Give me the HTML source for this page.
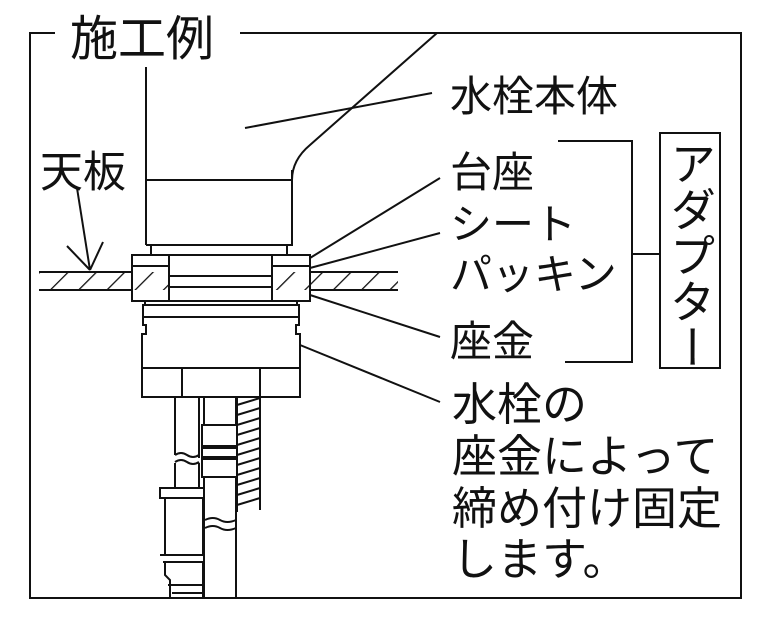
<!DOCTYPE html>
<html><head><meta charset="utf-8"><style>
html,body{margin:0;padding:0;background:#fff;}
svg{display:block;}
text{font-family:"Liberation Sans","Noto Sans CJK JP",sans-serif;fill:#111;}
</style></head><body>
<svg width="768" height="624" viewBox="0 0 768 624" xmlns="http://www.w3.org/2000/svg">
<defs>
<pattern id="h" width="20" height="20" patternUnits="userSpaceOnUse" patternTransform="rotate(45)">
<line x1="0" y1="0" x2="0" y2="20" stroke="#111" stroke-width="2.6"/>
</pattern>
</defs>
<g fill="none" stroke="#111" stroke-width="2">
<polyline points="55,33 30,33 30,598 741,598 741,33 240,33"/>
<line x1="146" y1="67" x2="146" y2="245"/>
<path d="M146,180 H292 Q292,160 310,145 L437,33"/>
<line x1="292" y1="170" x2="292" y2="245"/>
<line x1="146" y1="245" x2="293" y2="245"/>
<rect x="151" y="245" width="136" height="10"/>
<rect x="39" y="272" width="359" height="18" fill="url(#h)" stroke="none"/>
<line x1="39" y1="272" x2="398" y2="272"/>
<line x1="39" y1="290" x2="398" y2="290"/>
<rect x="132" y="255" width="37" height="46" fill="#fff"/>
<line x1="132" y1="266" x2="169" y2="266"/>
<rect x="132" y="272" width="37" height="18" fill="url(#h)" stroke="none"/>
<rect x="272" y="255" width="38" height="46" fill="#fff"/>
<line x1="272" y1="266" x2="310" y2="266"/>
<rect x="272" y="272" width="38" height="18" fill="url(#h)" stroke="none"/>
<line x1="132" y1="272" x2="132" y2="290"/><line x1="310" y1="272" x2="310" y2="290"/>
<rect x="169" y="255" width="103" height="46" fill="#fff"/>
<line x1="169" y1="276" x2="272" y2="276"/>
<line x1="169" y1="287" x2="272" y2="287"/>
<rect x="145" y="301" width="152" height="4"/>
<path d="M143,305 H299 V325 H296 V334 H300 V368 H142 V334 H146 V325 H143 Z"/>
<line x1="143" y1="317" x2="299" y2="317"/>
<rect x="142" y="368" width="158" height="29"/>
<line x1="182" y1="368" x2="182" y2="397"/>
<line x1="260" y1="368" x2="260" y2="397"/>
<path d="M175,397 V455 M199,397 V458 M175,463 V488 M199,463 V488"/>
<path d="M175,455 q6,-4 12,0 t12,0 M175,462 q6,-4 12,0 t12,0"/>
<rect x="160" y="488" width="44" height="10"/>
<rect x="165" y="498" width="38" height="57"/>
<path d="M160,555 H204 M163,562 H203 V598 M165,562 V575 L170,580 V598 M168,585 H203 M172,593 H203"/>
<path d="M204,397 V425 M236,397 V425 M204,477 V598 M236,477 V598"/>
<rect x="202" y="425" width="35" height="52"/>
<line x1="202" y1="447" x2="237" y2="447" stroke-width="4"/>
<line x1="202" y1="458" x2="237" y2="458" stroke-width="4"/>
<path d="M205,520 q8,-4 15,0 t16,0 M205,528 q8,-4 15,0 t16,0"/>
<path d="M237,405 L260,398 M237,415 L260,408 M237,425 L260,418 M237,435 L260,428 M237,445 L260,438 M237,455 L260,448 M237,465 L260,458 M237,475 L260,468 M237,485 L260,478 M237,495 L260,488 M237,505 L260,498"/>
<path d="M237,397 V512 M260,397 V510"/>
<line x1="245" y1="128" x2="432" y2="93"/>
<line x1="310" y1="258" x2="440" y2="178"/>
<line x1="310" y1="268" x2="440" y2="233"/>
<line x1="310" y1="295" x2="440" y2="337"/>
<line x1="300" y1="345" x2="440" y2="402"/>
<line x1="77" y1="188" x2="90" y2="270"/>
<line x1="67" y1="246" x2="90" y2="270"/><line x1="103" y1="242" x2="90" y2="270"/>
<polyline points="558,141 632,141 632,362 565,362"/>
<line x1="632" y1="254" x2="660" y2="254"/>
<rect x="660" y="133" width="60" height="235"/>
</g>
<rect x="58" y="10" width="178" height="50" fill="#fff"/>
<text x="70" y="55" font-size="48">施工例</text>
<text x="40" y="187" font-size="43">天板</text>
<text x="450" y="111" font-size="42">水栓本体</text>
<text x="450" y="187" font-size="42">台座</text>
<text x="450" y="239" font-size="42">シート</text>
<text x="450" y="289" font-size="42">パッキン</text>
<text x="450" y="356" font-size="42">座金</text>
<text x="452" y="420" font-size="45">水栓の</text>
<text x="452" y="472" font-size="45">座金によって</text>
<text x="452" y="524" font-size="45">締め付け固定</text>
<text x="452" y="575" font-size="45">します。</text>
<text x="690" y="140" font-size="46" style="writing-mode:vertical-rl;" text-anchor="start">アダプター</text>
</svg>
</body></html>
